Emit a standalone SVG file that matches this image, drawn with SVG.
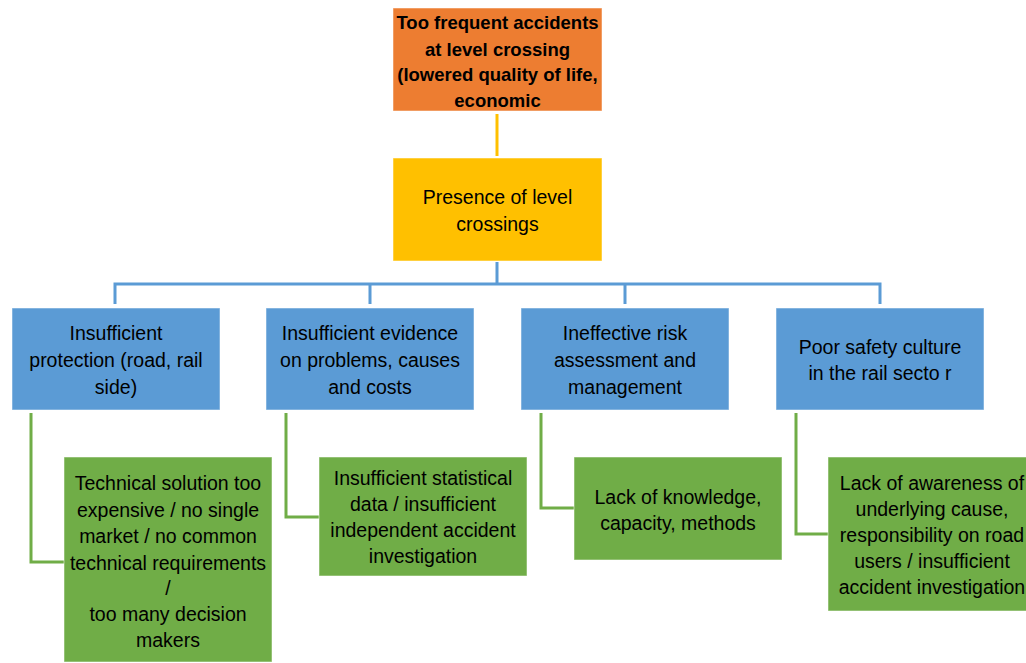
<svg xmlns="http://www.w3.org/2000/svg" width="1026" height="663" viewBox="0 0 1026 663">
<style>
.t{font-family:"Liberation Sans",Arial,sans-serif;font-size:19.5px;fill:#000;text-anchor:middle}
.b{font-weight:bold;font-size:18.5px}
.box{stroke:#ffffff;stroke-opacity:0.5;stroke-width:1}
.org{fill:#ED7D31}.yel{fill:#FFC000}.blu{fill:#5B9BD5}.grn{fill:#70AD47}
.cy{stroke:#FFC000;stroke-width:3;fill:none}
.cb{stroke:#5B9BD5;stroke-width:3;fill:none}
.cg{stroke:#70AD47;stroke-width:3;fill:none}
</style>
<rect width="1026" height="663" fill="#ffffff"/>
<g id="connectors">
<line class="cy" x1="497" y1="114" x2="497" y2="156"/>
<path class="cb" d="M497 262V284M115 304V284H880V304M370 284V304M625 284V304"/>
<path class="cg" d="M31 413V562H64"/>
<path class="cg" d="M286 413V517H319"/>
<path class="cg" d="M541 413V508H574"/>
<path class="cg" d="M796 413V534H828"/>
</g>
<g id="n-top">
<rect class="box org" x="393" y="8" width="209" height="103"/>
<text class="t b" x="497.5" y="29">Too frequent accidents</text>
<text class="t b" x="497.5" y="56">at level crossing</text>
<text class="t b" x="497.5" y="81">(lowered quality of life,</text>
<text class="t b" x="497.5" y="107">economic</text>
</g>
<g id="n-presence">
<rect class="box yel" x="393" y="158" width="209" height="103"/>
<text class="t" x="497.5" y="204">Presence of level</text>
<text class="t" x="497.5" y="231">crossings</text>
</g>
<g id="n-protection">
<rect class="box blu" x="12" y="308" width="208" height="102"/>
<text class="t" x="116" y="340">Insufficient</text>
<text class="t" x="116" y="367">protection (road, rail</text>
<text class="t" x="116" y="394">side)</text>
</g>
<g id="n-evidence">
<rect class="box blu" x="266" y="308" width="208" height="102"/>
<text class="t" x="370" y="340">Insufficient evidence</text>
<text class="t" x="370" y="367">on problems, causes</text>
<text class="t" x="370" y="394">and costs</text>
</g>
<g id="n-risk">
<rect class="box blu" x="521" y="308" width="208" height="102"/>
<text class="t" x="625" y="340">Ineffective risk</text>
<text class="t" x="625" y="367">assessment and</text>
<text class="t" x="625" y="394">management</text>
</g>
<g id="n-culture">
<rect class="box blu" x="776" y="308" width="208" height="102"/>
<text class="t" x="880" y="354">Poor safety culture</text>
<text class="t" x="880" y="380">in the rail secto r</text>
</g>
<g id="n-technical">
<rect class="box grn" x="64" y="457" width="208" height="205"/>
<text class="t" x="168" y="490">Technical solution too</text>
<text class="t" x="168" y="517">expensive / no single</text>
<text class="t" x="168" y="543">market / no common</text>
<text class="t" x="168" y="570">technical requirements</text>
<text class="t" x="168" y="595">/</text>
<text class="t" x="168" y="621">too many decision</text>
<text class="t" x="168" y="647">makers</text>
</g>
<g id="n-statistical">
<rect class="box grn" x="319" y="457" width="208" height="119"/>
<text class="t" x="423" y="485">Insufficient statistical</text>
<text class="t" x="423" y="511">data / insufficient</text>
<text class="t" x="423" y="537">independent accident</text>
<text class="t" x="423" y="563">investigation</text>
</g>
<g id="n-knowledge">
<rect class="box grn" x="574" y="457" width="208" height="103"/>
<text class="t" x="678" y="504">Lack of knowledge,</text>
<text class="t" x="678" y="530">capacity, methods</text>
</g>
<g id="n-awareness">
<rect class="box grn" x="828" y="457" width="208" height="154"/>
<text class="t" x="932" y="490">Lack of awareness of</text>
<text class="t" x="932" y="516">underlying cause,</text>
<text class="t" x="932" y="542">responsibility on road</text>
<text class="t" x="932" y="568">users / insufficient</text>
<text class="t" x="932" y="594">accident investigation</text>
</g>
</svg>
